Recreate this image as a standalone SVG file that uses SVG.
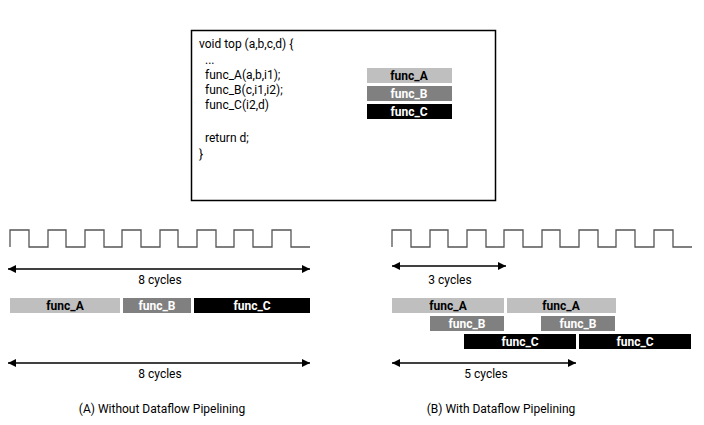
<svg xmlns="http://www.w3.org/2000/svg" width="704" height="425" viewBox="0 0 704 425">
<defs>
<marker id="ah" viewBox="0 0 10 10" refX="10" refY="5" markerWidth="10" markerHeight="8" markerUnits="userSpaceOnUse" orient="auto-start-reverse"><path d="M0,0L10,5L0,10z" fill="#000"/></marker>
</defs>
<style>
text{font-family:Roboto,"Liberation Sans",sans-serif;font-size:12px;fill:#000}
.c{text-anchor:middle}
.bl{font-weight:bold;text-anchor:middle;font-size:12px}
.w{fill:#fff}
.A{fill:#bfbfbf}.B{fill:#808080}.C{fill:#000}
.clk{fill:none;stroke:#555;stroke-width:1.3}
.arr{stroke:#000;stroke-width:1.3;marker-start:url(#ah);marker-end:url(#ah)}
</style>
<rect width="704" height="425" fill="#fff"/>
<g id="code">
<rect x="191.5" y="30.5" width="304" height="170" fill="#fff" stroke="#000" stroke-width="1.5"/>
<text x="199" y="48">void top (a,b,c,d) {</text>
<text x="205" y="64">...</text>
<text x="205" y="79">func_A(a,b,i1);</text>
<text x="205" y="94">func_B(c,i1,i2);</text>
<text x="205" y="109">func_C(i2,d)</text>
<text x="205" y="142">return d;</text>
<text x="199" y="158">}</text>
<rect class="A" x="367" y="68" width="85" height="15"/><text class="bl" x="409" y="80">func_A</text>
<rect class="B" x="367" y="86" width="85" height="15"/><text class="bl w" x="409" y="98">func_B</text>
<rect class="C" x="367" y="104" width="85" height="15"/><text class="bl w" x="409" y="116">func_C</text>
</g>
<g id="clocks">
<path class="clk" d="M10,247V230H29V247H48V230H66V247H85V230H104V247H122V230H141V247H160V230H178V247H197V230H216V247H234V230H253V247H272V230H291V247H310"/>
<path class="clk" d="M392,247V230H411V247H430V230H448V247H467V230H486V247H504V230H523V247H542V230H560V247H579V230H598V247H616V230H635V247H654V230H673V247H692"/>
</g>
<g id="connectors">
<line class="arr" x1="8" y1="269" x2="310" y2="269"/>
<line class="arr" x1="8" y1="363" x2="310" y2="363"/>
<line class="arr" x1="392" y1="266" x2="506" y2="266"/>
<line class="arr" x1="392" y1="363" x2="576" y2="363"/>
</g>
<g id="labels">
<text class="c" x="160" y="284">8 cycles</text>
<text class="c" x="160" y="378">8 cycles</text>
<text class="c" x="450" y="284">3 cycles</text>
<text class="c" x="486" y="378">5 cycles</text>
<text class="c" x="162" y="413">(A) Without Dataflow Pipelining</text>
<text class="c" x="501" y="413">(B) With Dataflow Pipelining</text>
</g>
<g id="barsA">
<rect class="A" x="10" y="298" width="110" height="15"/><text class="bl" x="65" y="310">func_A</text>
<rect class="B" x="123" y="298" width="68" height="15"/><text class="bl w" x="157" y="310">func_B</text>
<rect class="C" x="194" y="298" width="116" height="15"/><text class="bl w" x="252" y="310">func_C</text>
</g>
<g id="barsB">
<rect class="A" x="392" y="298" width="112" height="15"/><text class="bl" x="448" y="310">func_A</text>
<rect class="A" x="507" y="298" width="109" height="15"/><text class="bl" x="561" y="310">func_A</text>
<rect class="B" x="430" y="316" width="74" height="15"/><text class="bl w" x="467" y="328">func_B</text>
<rect class="B" x="541" y="316" width="74" height="15"/><text class="bl w" x="578" y="328">func_B</text>
<rect class="C" x="464" y="334" width="112" height="15"/><text class="bl w" x="520" y="346">func_C</text>
<rect class="C" x="579" y="334" width="112" height="15"/><text class="bl w" x="635" y="346">func_C</text>
</g>
</svg>
